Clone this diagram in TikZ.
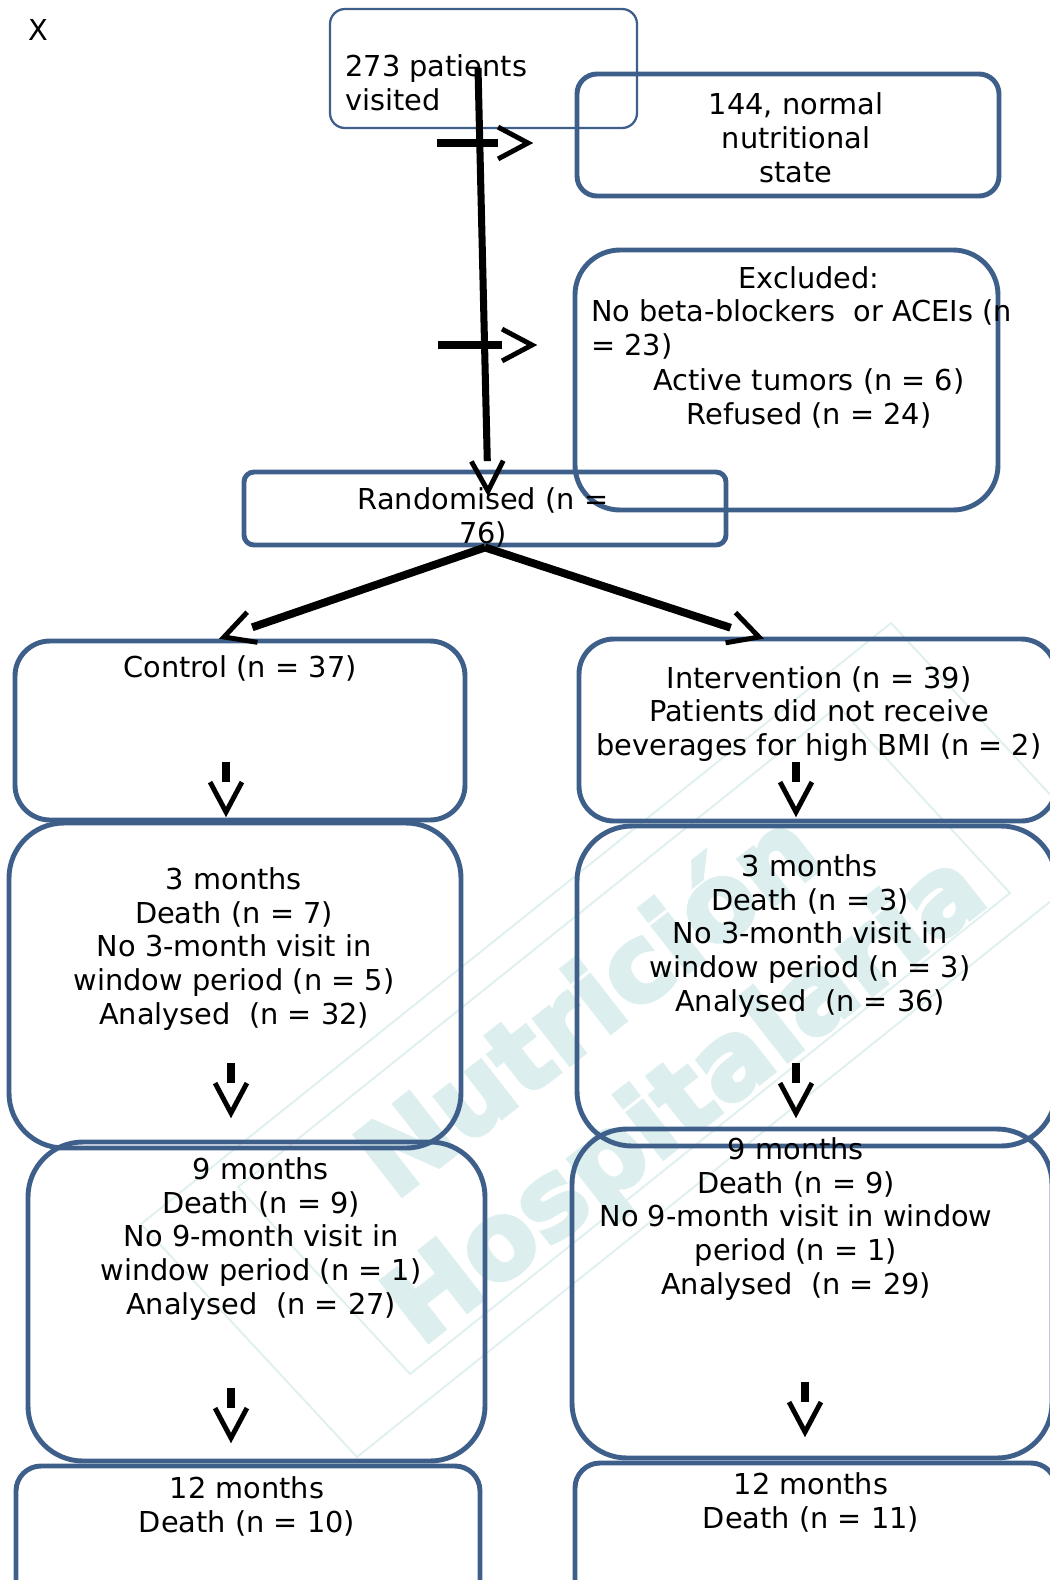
\documentclass[tikz,border=0pt]{standalone}
\usepackage{fontspec}
\setmainfont{DejaVu Sans}
\newfontfamily\wmfont{DejaVu Sans Bold}[FakeBold=4]
\usetikzlibrary{calc,fit}

\definecolor{boxblue}{RGB}{62,95,138}
\definecolor{wmtext}{RGB}{220,238,238}
\definecolor{wmline}{RGB}{224,240,240}
\newcommand{\flowfont}{\fontsize{16.4}{19.3}\selectfont}

\tikzset{
  flowbox/.style={draw=boxblue, line width=2.8pt, inner sep=0pt},
  thinbox/.style={draw=boxblue, line width=1.3pt, inner sep=0pt},
  txt/.style={font=\flowfont, align=center, inner sep=0pt},
  vhead/.style={line width=2.8pt, line join=miter, line cap=butt},
  wmark/.style={text=wmtext, font=\wmfont\fontsize{60}{62}\selectfont, rotate=38, inner sep=0pt},
}
% thick shaft that stops short of an open V head
\newcommand{\arrowto}[3][4.5pt]{%
  \draw[line width=#1, shorten >=17pt] (#2) -- (#3);
  \draw[vhead] ($(#3)!19.3pt!28:(#2)$) -- (#3) -- ($(#3)!19.3pt!-28:(#2)$);}

\begin{document}
\begin{tikzpicture}[x=0.02cm, y=-0.02cm]
    \useasboundingbox (0,0) rectangle (1049,1580);
    % watermark
    \draw[wmline, line width=1.1pt] (891,623) -- (1107,856) -- (357,1457) -- (141,1224) -- cycle;
    \draw[wmline, line width=1.1pt] (838,706) -- (1010,893) -- (410,1374) -- (238,1187) -- cycle;
    \node[wmark] (wm1) at (585,1000) {Nutrición};
    \node[wmark] (wm2) at (688,1102) {Hospitalaria};

    % boxes
    \node[thinbox, rounded corners=0.3cm, fit={(330,9) (637,128)}] (visit) {};
    \node[flowbox, rounded corners=0.4cm, fit={(577,74) (999,196)}] (normal) {};
    \node[flowbox, rounded corners=0.9cm, fit={(575,250) (998,510)}] (excl) {};
    \node[flowbox, rounded corners=0.2cm, fit={(244,472) (726,545)}] (rand) {};
    \node[flowbox, rounded corners=0.7cm, fit={(15,641) (465,820)}] (ctrl) {};
    \node[flowbox, rounded corners=1.1cm, fit={(9,823) (461,1148)}] (ctrlA) {};
    \node[flowbox, rounded corners=1.1cm, fit={(28,1142) (485,1461)}] (ctrlB) {};
    \node[flowbox, rounded corners=0.5cm, fit={(16,1466) (480,1610)}] (ctrlC) {};
    \node[flowbox, rounded corners=0.7cm, fit={(579,639) (1056,821)}] (intv) {};
    \node[flowbox, rounded corners=1.1cm, fit={(577,826) (1056,1146)}] (intvA) {};
    \node[flowbox, rounded corners=1.1cm, fit={(572,1129) (1052,1458)}] (intvB) {};
    \node[flowbox, rounded corners=0.5cm, fit={(575,1463) (1056,1610)}] (intvC) {};

    % texts
    \node[txt] (xmark) at (38,30) {X};
    \node[txt, anchor=west, align=left] (visittxt) at (345,83) {273 patients\\visited};
    \node[txt] (normaltxt) at (796,138) {144, normal\\nutritional\\state};
    \node[txt] (excltitle) at (809,278) {Excluded:};
    \node[txt, anchor=west, align=left] (excllist) at (591,329) {No beta-blockers\ \ or ACEIs (n\\= 23)};
    \node[txt] (excltail) at (809,398) {Active tumors (n = 6)\\Refused (n = 24)};
    \node[txt] (randtxt) at (483,517) {Randomised (n =\\76)};
    \node[txt] (ctrltxt) at (240,668) {Control (n = 37)};
    \node[txt] (intvtxt) at (819,714) {Intervention (n = 39)\\Patients did not receive\\beverages for high BMI (n = 2)};
    \node[txt] (ctrlAtxt) at (234,949) {3 months\\Death (n = 7)\\No 3-month visit in\\window period (n = 5)\\Analysed\ \ (n = 32)};
    \node[txt] (intvAtxt) at (810,936) {3 months\\Death (n = 3)\\No 3-month visit in\\window period (n = 3)\\Analysed\ \ (n = 36)};
    \node[txt] (ctrlBtxt) at (261,1239) {9 months\\Death (n = 9)\\No 9-month visit in\\window period (n = 1)\\Analysed\ \ (n = 27)};
    \node[txt] (intvBtxt) at (796,1219) {9 months\\Death (n = 9)\\No 9-month visit in window\\period (n = 1)\\Analysed\ \ (n = 29)};
    \node[txt] (ctrlCtxt) at (247,1506) {12 months\\Death (n = 10)};
    \node[txt] (intvCtxt) at (811,1502) {12 months\\Death (n = 11)};

    % connectors
    \coordinate (vtop) at (478,68);
    \coordinate (vtip) at (488,491);
    \coordinate (h1) at (437,143);
    \coordinate (h1tip) at (528,143);
    \coordinate (h2) at (438,345);
    \coordinate (h2tip) at (532,345);
    \coordinate (ctip) at (224,637);
    \coordinate (itip) at (759,637);
    \arrowto[4pt]{vtop}{vtip}
    \arrowto{h1}{h1tip}
    \arrowto{h2}{h2tip}
    \arrowto{rand.south}{ctip}
    \arrowto{rand.south}{itip}
    \foreach \x/\y in {226/762, 796/762, 231/1063, 796/1063, 231/1388, 805/1382}{
        \coordinate (dtop) at (\x,\y);
        \coordinate (dtip) at (\x,{\y+50});
        \arrowto{dtop}{dtip}
    }
\end{tikzpicture}
\end{document}
